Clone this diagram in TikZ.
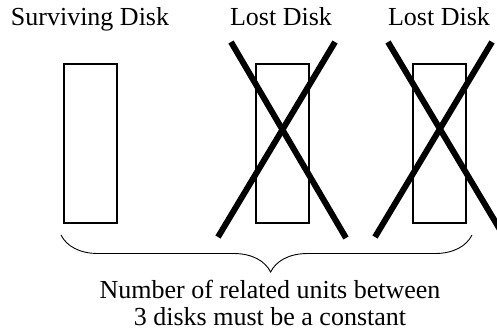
\documentclass[tikz,border=0pt]{standalone}
\usepackage{fontspec}
\setmainfont{Liberation Serif}
\usetikzlibrary{positioning, decorations.pathreplacing}

\begin{document}
\begin{tikzpicture}[x=1pt, y=-1pt, font=\fontsize{26}{27.5}\selectfont,
  disk/.style={draw, line width=2pt, minimum width=53pt, minimum height=159pt, inner sep=0pt},
  cross/.style={line width=6pt},
  title/.style={anchor=base, inner sep=0pt}]
  \useasboundingbox (0,0) rectangle (497,330);
  \node[disk] (d1) at (90.5,143.5) {};
  \node[disk] (d2) at (282.5,143.5) {};
  \node[disk] (d3) at (439.5,143.5) {};
  \node[title] (t1) at (90,25) {Surviving Disk};
  \node[title] (t2) at (281,25) {Lost Disk};
  \node[title] (t3) at (439,25) {Lost Disk};
  % crosses over the lost disks
  \draw[cross] (231,42) -- (346,238);
  \draw[cross] (335,42) -- (218,237);
  \draw[cross] (388,42) -- (505,238);
  \draw[cross] (492,42) -- (375,237);
  % brace under all three disks
  \coordinate (bl) at (61,235);
  \coordinate (br) at (472,235);
  \draw[line width=0.9pt, decorate, decoration={brace, amplitude=37pt, mirror, aspect=0.51}] (bl) -- (br);
  \node[anchor=north, inner sep=0pt, text depth=0pt, align=center] (note) at (270,279.5)
    {Number of related units between\\3 disks must be a constant};
\end{tikzpicture}
\end{document}
